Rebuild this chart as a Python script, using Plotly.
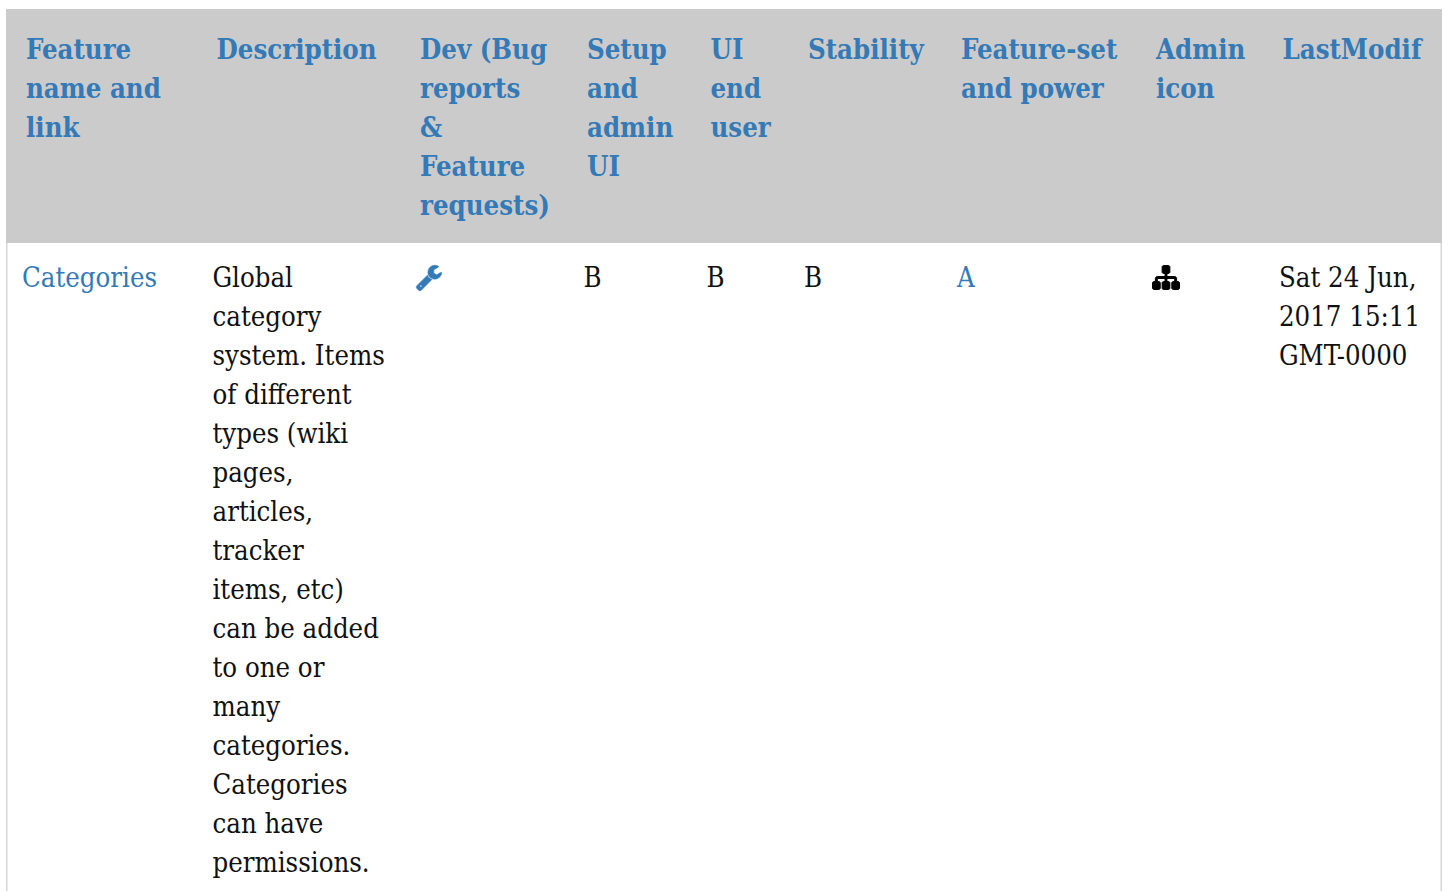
import re
import plotly.graph_objects as go

W, H = 1448, 891
FONT = "DejaVu Serif Condensed"
SIZE = 27.3
LINE = 39
BLUE = "#337ab7"
BLACK = "#111111"
HEADER_BG = "#cbcbcb"
BORDER = "#d6d6d6"

header_x = [26, 216.5, 420, 587, 710.5, 808, 961, 1156, 1282.5]
body_x = [22, 212.5, 416, 583.5, 706.5, 804, 957, 1152, 1279]
header_y0 = 52
body_y0 = 280.5

headers = [
    ["Feature", "name and", "link"],
    ["Description"],
    ["Dev (Bug", "reports", "&", "Feature", "requests)"],
    ["Setup", "and", "admin", "UI"],
    ["UI", "end", "user"],
    ["Stability"],
    ["Feature-set", "and power"],
    ["Admin", "icon"],
    ["LastModif"],
]
feature = ["Categories"]
description = ["Global", "category", "system. Items", "of different", "types (wiki",
               "pages,", "articles,", "tracker", "items, etc)", "can be added",
               "to one or", "many", "categories.", "Categories", "can have",
               "permissions."]
setup_ui = ["B"]
end_user = ["B"]
stability = ["B"]
feature_set = ["A"]
last_modif = ["Sat 24 Jun,", "2017 15:11", "GMT-0000"]

WRENCH = ("M448 1472q0-26-19-45t-45-19-45 19-19 45 19 45 45 19 45-19 19-45zm644-420l-682 682q-37 37-90 37"
          "-52 0-91-37l-106-108q-38-36-38-90 0-53 38-91l681-681q39 98 114.5 173.5t173.5 114.5zm634-435q0 39"
          "-23 106-47 134-164.5 217.5t-258.5 83.5q-185 0-316.5-131.5t-131.5-316.5 131.5-316.5 316.5-131.5"
          "q58 0 121.5 16.5t107.5 46.5q16 11 16 28t-16 28l-293 169v224l193 107q5-3 79-48.5t135.5-81 70.5-35.5"
          "q15 0 23.5 10t8.5 25z")
SITEMAP = ("M1792 1248v320q0 40-28 68t-68 28h-320q-40 0-68-28t-28-68v-320q0-40 28-68t68-28h96v-192h-512v192h96"
           "q40 0 68 28t28 68v320q0 40-28 68t-68 28h-320q-40 0-68-28t-28-68v-320q0-40 28-68t68-28h96v-192h-512"
           "v192h96q40 0 68 28t28 68v320q0 40-28 68t-68 28h-320q-40 0-68-28t-28-68v-320q0-40 28-68t68-28h96"
           "v-192q0-52 38-90t90-38h512v-192h-96q-40 0-68-28t-28-68v-320q0-40 28-68t68-28h320q40 0 68 28t28 68"
           "v320q0 40-28 68t-68 28h-96v192h512q52 0 90 38t38 90v192h96q40 0 68 28t28 68z")


def fit_icon(path, x0, y0, x1, y1):
    """Convert a relative icon outline to absolute commands fitted in a pixel box."""
    segs = []
    cx = cy = sx = sy = 0.0
    for cmd, args in re.findall(r"([MmLlHhVvQqTtZz])([^MmLlHhVvQqTtZz]*)", path):
        nums = [float(n) for n in re.findall(r"-?\d*\.?\d+", args)]
        low = cmd.lower()
        rel = cmd.islower()
        if low == "z":
            segs.append(("Z", []))
            cx, cy = sx, sy
        elif low == "h":
            for n in nums:
                cx = cx + n if rel else n
                segs.append(("L", [(cx, cy)]))
        elif low == "v":
            for n in nums:
                cy = cy + n if rel else n
                segs.append(("L", [(cx, cy)]))
        elif low in "mlt":
            for i in range(0, len(nums), 2):
                cx = cx + nums[i] if rel else nums[i]
                cy = cy + nums[i + 1] if rel else nums[i + 1]
                if low == "m" and i == 0:
                    sx, sy = cx, cy
                    segs.append(("M", [(cx, cy)]))
                else:
                    segs.append(("T" if low == "t" else "L", [(cx, cy)]))
        elif low == "q":
            for i in range(0, len(nums), 4):
                qx = cx + nums[i] if rel else nums[i]
                qy = cy + nums[i + 1] if rel else nums[i + 1]
                cx = cx + nums[i + 2] if rel else nums[i + 2]
                cy = cy + nums[i + 3] if rel else nums[i + 3]
                segs.append(("Q", [(qx, qy), (cx, cy)]))
    pts = [s[1][-1] for s in segs if s[1]]
    minx, maxx = min(p[0] for p in pts), max(p[0] for p in pts)
    miny, maxy = min(p[1] for p in pts), max(p[1] for p in pts)
    fx = (x1 - x0) / (maxx - minx)
    fy = (y1 - y0) / (maxy - miny)
    out = []
    for c, ps in segs:
        out.append(c + " ".join(f"{x0 + (p[0] - minx) * fx:.2f},{y0 + (p[1] - miny) * fy:.2f}" for p in ps))
    return " ".join(out)


fig = go.Figure()


def add_column(lines, x, y0, color, bold=False):
    fig.add_trace(go.Scatter(
        x=[x] * len(lines),
        y=[y0 + i * LINE for i in range(len(lines))],
        mode="text",
        text=[f"<b>{t}</b>" if bold else t for t in lines],
        textposition="middle right",
        textfont=dict(family=FONT, size=SIZE, color=color),
        hoverinfo="skip",
        showlegend=False,
        cliponaxis=False,
    ))


for col, x in zip(headers, header_x):
    add_column(col, x, header_y0, BLUE, bold=True)

add_column(feature, body_x[0], body_y0, BLUE)
add_column(description, body_x[1], body_y0, BLACK)
add_column(setup_ui, body_x[3], body_y0, BLACK)
add_column(end_user, body_x[4], body_y0, BLACK)
add_column(stability, body_x[5], body_y0, BLACK)
add_column(feature_set, body_x[6], body_y0, BLUE)
add_column(last_modif, body_x[8], body_y0, BLACK)

shapes = [
    dict(type="rect", xref="x", yref="y", x0=6, x1=1442, y0=9, y1=243,
         fillcolor=HEADER_BG, line_width=0, layer="below"),
    dict(type="rect", xref="x", yref="y", x0=6, x1=7.5, y0=243, y1=H,
         fillcolor=BORDER, line_width=0, layer="below"),
    dict(type="rect", xref="x", yref="y", x0=1440.5, x1=1442, y0=243, y1=H,
         fillcolor=BORDER, line_width=0, layer="below"),
    dict(type="path", xref="x", yref="y", path=fit_icon(WRENCH, 416.3, 265.3, 441.7, 290.7),
         fillcolor=BLUE, line=dict(color=BLUE, width=0.6), fillrule="evenodd"),
    dict(type="path", xref="x", yref="y", path=fit_icon(SITEMAP, 1152.5, 265.5, 1179.5, 289.5),
         fillcolor="#000000", line=dict(color="#000000", width=1)),
]

fig.update_layout(
    width=W, height=H,
    autosize=False,
    margin=dict(l=0, r=0, t=0, b=0),
    paper_bgcolor="white",
    plot_bgcolor="white",
    shapes=shapes,
    xaxis=dict(range=[0, W], visible=False, fixedrange=True),
    yaxis=dict(range=[H, 0], visible=False, fixedrange=True),
)
fig.write_html("out.html", config={"displayModeBar": False},
               post_script="document.body.style.margin='0';document.documentElement.style.overflow='hidden';")
